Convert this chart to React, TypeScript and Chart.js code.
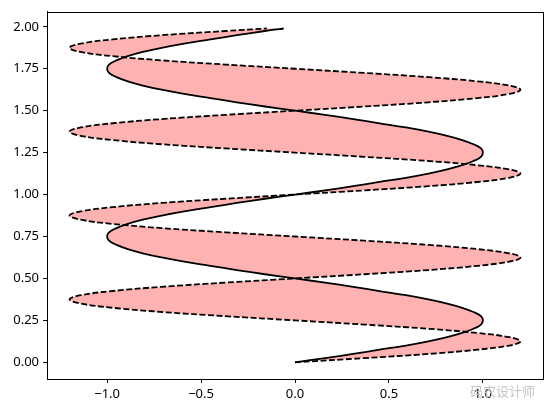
import React, { useEffect, useRef } from "react";
import { Chart, registerables } from "chart.js";

Chart.register(...registerables);

// y samples (0 to 1.975 step 0.025, plus 1.99)
const yValues: number[] = [
  0, 0.025, 0.05, 0.075, 0.1, 0.125, 0.15, 0.175, 0.2, 0.225,
  0.25, 0.275, 0.3, 0.325, 0.35, 0.375, 0.4, 0.425, 0.45, 0.475,
  0.5, 0.525, 0.55, 0.575, 0.6, 0.625, 0.65, 0.675, 0.7, 0.725,
  0.75, 0.775, 0.8, 0.825, 0.85, 0.875, 0.9, 0.925, 0.95, 0.975,
  1.0, 1.025, 1.05, 1.075, 1.1, 1.125, 1.15, 1.175, 1.2, 1.225,
  1.25, 1.275, 1.3, 1.325, 1.35, 1.375, 1.4, 1.425, 1.45, 1.475,
  1.5, 1.525, 1.55, 1.575, 1.6, 1.625, 1.65, 1.675, 1.7, 1.725,
  1.75, 1.775, 1.8, 1.825, 1.85, 1.875, 1.9, 1.925, 1.95, 1.975,
  1.99,
];

// solid curve x values
const solidX: number[] = [
  0, 0.16, 0.31, 0.45, 0.59, 0.71, 0.81, 0.89, 0.95, 0.99,
  1.0, 0.99, 0.95, 0.89, 0.81, 0.71, 0.59, 0.45, 0.31, 0.16,
  0, -0.16, -0.31, -0.45, -0.59, -0.71, -0.81, -0.89, -0.95, -0.99,
  -1.0, -0.99, -0.95, -0.89, -0.81, -0.71, -0.59, -0.45, -0.31, -0.16,
  0, 0.16, 0.31, 0.45, 0.59, 0.71, 0.81, 0.89, 0.95, 0.99,
  1.0, 0.99, 0.95, 0.89, 0.81, 0.71, 0.59, 0.45, 0.31, 0.16,
  0, -0.16, -0.31, -0.45, -0.59, -0.71, -0.81, -0.89, -0.95, -0.99,
  -1.0, -0.99, -0.95, -0.89, -0.81, -0.71, -0.59, -0.45, -0.31, -0.16,
  -0.06,
];

// dashed curve x values
const dashedX: number[] = [
  0, 0.37, 0.71, 0.97, 1.14, 1.2, 1.14, 0.97, 0.71, 0.37,
  0, -0.37, -0.71, -0.97, -1.14, -1.2, -1.14, -0.97, -0.71, -0.37,
  0, 0.37, 0.71, 0.97, 1.14, 1.2, 1.14, 0.97, 0.71, 0.37,
  0, -0.37, -0.71, -0.97, -1.14, -1.2, -1.14, -0.97, -0.71, -0.37,
  0, 0.37, 0.71, 0.97, 1.14, 1.2, 1.14, 0.97, 0.71, 0.37,
  0, -0.37, -0.71, -0.97, -1.14, -1.2, -1.14, -0.97, -0.71, -0.37,
  0, 0.37, 0.71, 0.97, 1.14, 1.2, 1.14, 0.97, 0.71, 0.37,
  0, -0.37, -0.71, -0.97, -1.14, -1.2, -1.14, -0.97, -0.71, -0.37,
  -0.15,
];

const xTicks: number[] = [-1.0, -0.5, 0.0, 0.5, 1.0];
const yTicks: number[] = [0, 0.25, 0.5, 0.75, 1.0, 1.25, 1.5, 1.75, 2.0];

const fmt = (v: number, d: number) => {
  const s = Math.abs(v).toFixed(d);
  return v < -1e-9 ? "\u2212" + s : s;
};

const frame = {
  id: "frame",
  afterDraw(chart: any) {
    const { ctx, chartArea: a } = chart;
    ctx.save();
    ctx.strokeStyle = "#000";
    ctx.lineWidth = 1;
    ctx.strokeRect(Math.round(a.left) + 0.5, Math.round(a.top) + 0.5, Math.round(a.right - a.left), Math.round(a.bottom - a.top));
    ctx.restore();
  },
};

export default function App() {
  const ref = useRef<HTMLCanvasElement>(null);
  useEffect(() => {
    const solid = yValues.map((y, i) => ({ x: solidX[i], y }));
    const dashed = yValues.map((y, i) => ({ x: dashedX[i], y }));
    const shape = [...solid, ...dashed.slice().reverse()];
    const chart = new Chart(ref.current!, {
      type: "scatter",
      data: {
        datasets: [
          {
            data: solid,
            showLine: true,
            borderColor: "#000",
            borderWidth: 1.8,
            pointRadius: 0,
            tension: 0.4,
            fill: false,
          },
          {
            data: dashed,
            showLine: true,
            borderColor: "#000",
            borderWidth: 1.8,
            borderDash: [6, 2.5],
            pointRadius: 0,
            tension: 0.4,
            fill: false,
          },
          {
            data: shape,
            showLine: true,
            borderWidth: 0,
            borderColor: "rgba(0,0,0,0)",
            backgroundColor: "rgba(255,0,0,0.3)",
            pointRadius: 0,
            tension: 0.4,
            fill: "shape",
          } as any,
        ],
      },
      options: {
        animation: false,
        responsive: false,
        devicePixelRatio: 1,
        layout: { padding: { top: 11, right: 10, left: 0, bottom: 0 } },
        plugins: { legend: { display: false }, tooltip: { enabled: false } },
        scales: {
          x: {
            type: "linear",
            min: -1.32,
            max: 1.32,
            afterBuildTicks: (s: any) => {
              s.ticks = xTicks.map((v) => ({ value: v }));
            },
            afterFit: (s: any) => {
              s.height = 36;
            },
            grid: { display: true, drawOnChartArea: false, drawTicks: true, tickLength: 4, color: "#000" },
            border: { display: true, color: "#000" },
            ticks: {
              color: "#000",
              padding: 3,
              font: { family: "'Noto Sans', sans-serif", size: 13 },
              callback: (v: any) => fmt(Number(v), 1),
            },
          },
          y: {
            type: "linear",
            min: -0.0995,
            max: 2.0895,
            afterBuildTicks: (s: any) => {
              s.ticks = yTicks.map((v) => ({ value: v }));
            },
            afterFit: (s: any) => {
              s.width = 47;
            },
            grid: { display: true, drawOnChartArea: false, drawTicks: true, tickLength: 4, color: "#000" },
            border: { display: true, color: "#000" },
            ticks: {
              color: "#000",
              padding: 4,
              font: { family: "'Noto Sans', sans-serif", size: 13 },
              callback: (v: any) => fmt(Number(v), 2),
            },
          },
        },
      },
      plugins: [frame],
    });
    return () => chart.destroy();
  }, []);
  return (
    <div style={{ position: "absolute", left: 0, top: 0, width: 553, height: 415, background: "#fff" }}>
      <canvas ref={ref} width={553} height={415} style={{ display: "block" }} />
      <span
        style={{
          position: "absolute",
          left: 470,
          top: 381,
          fontFamily: "'Noto Sans CJK SC', sans-serif",
          fontSize: 13,
          color: "#c4c4c4",
        }}
      >
        码农设计师
      </span>
    </div>
  );
}
